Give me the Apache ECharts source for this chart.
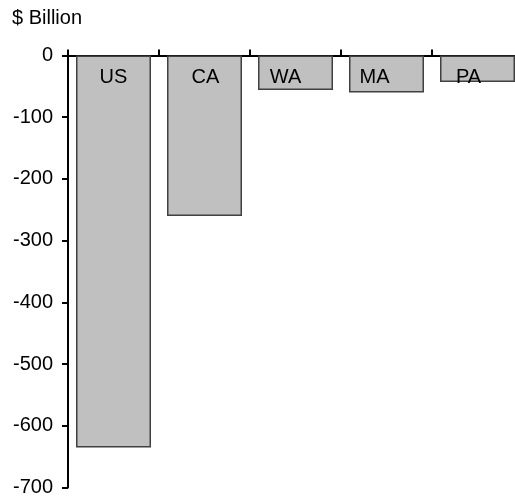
<!DOCTYPE html>
<html>
<head>
<meta charset="utf-8">
<script src="https://cdn.jsdelivr.net/npm/echarts@6/dist/echarts.min.js"></script>
<style>html,body{margin:0;padding:0;background:#fff;overflow:hidden}#c{width:523px;height:500px}</style>
</head>
<body>
<div id="c"></div>
<script>
const categories = ['US', 'CA', 'WA', 'MA', 'PA'];
const values = [-635, -260, -56, -60, -43];
const yTicks = [0, -100, -200, -300, -400, -500, -600, -700];
const unitLabel = '$ Billion';

const labelShiftX = [0, 1, -10, -12, -9];
const FONT = 'Liberation Sans, Arial, sans-serif';

const chart = echarts.init(document.getElementById('c'), null, {renderer: 'canvas'});
chart.setOption({
  animation: false,
  title: {
    text: unitLabel, left: 7, top: 3,
    textStyle: {fontFamily: FONT, fontSize: 20, fontWeight: 'normal', color: '#000'}
  },
  grid: {left: 68, top: 55.5, right: 0, bottom: 12.5, containLabel: false},
  xAxis: {
    type: 'category', data: categories, position: 'top',
    axisLine: {show: true, onZero: false, lineStyle: {color: '#000', width: 2}},
    axisTick: {show: true, inside: false, length: 6, lineStyle: {color: '#000', width: 2}},
    axisLabel: {show: false},
    splitLine: {show: false}
  },
  yAxis: {
    type: 'value', min: yTicks[yTicks.length - 1], max: yTicks[0], interval: 100,
    axisLine: {show: true, lineStyle: {color: '#000', width: 2}},
    axisTick: {show: true, length: 6, lineStyle: {color: '#000', width: 2}},
    axisLabel: {color: '#000', fontFamily: FONT, fontSize: 20, margin: 15},
    splitLine: {show: false}
  },
  series: [{
    type: 'bar',
    barWidth: 75,
    data: values.map((v, i) => ({
      value: v,
      label: {offset: [labelShiftX[i], 0]}
    })),
    itemStyle: {color: '#c0c0c0', borderColor: '#404040', borderWidth: 1.5},
    label: {
      show: true, position: 'insideTop', distance: 12,
      formatter: p => categories[p.dataIndex],
      color: '#000', fontFamily: FONT, fontSize: 20
    }
  }]
});
</script>
</body>
</html>
